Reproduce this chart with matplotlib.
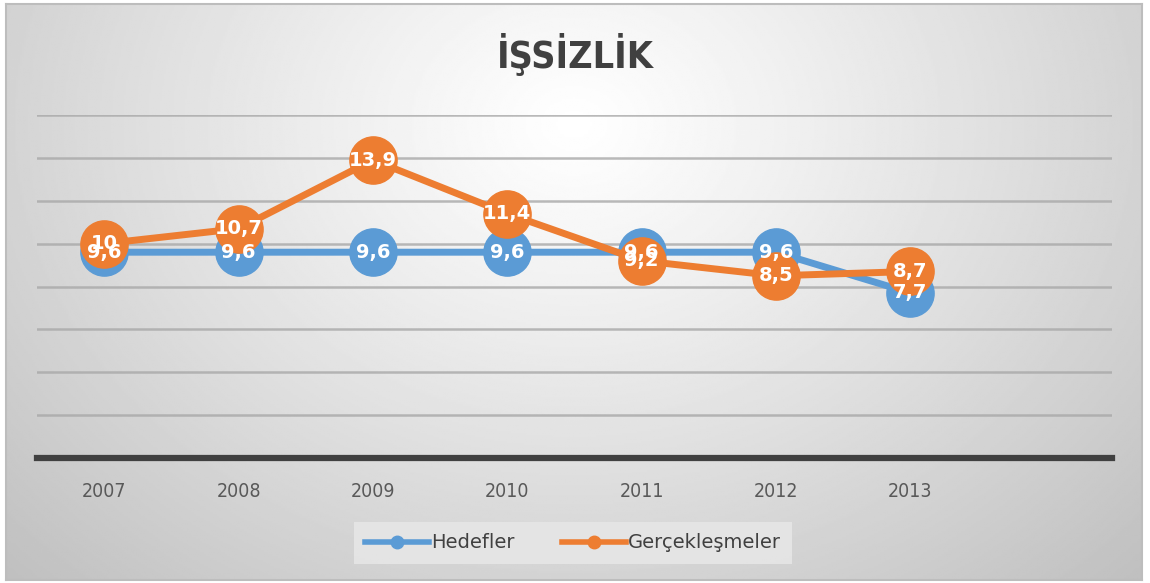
import numpy as np
import matplotlib
matplotlib.use('Agg')
import matplotlib.pyplot as plt
from matplotlib.lines import Line2D

#-- chart data
years = ['2007', '2008', '2009', '2010', '2011', '2012', '2013']
hedefler = [9.6, 9.6, 9.6, 9.6, 9.6, 9.6, 7.7]
gerceklesmeler = [10, 10.7, 13.9, 11.4, 9.2, 8.5, 8.7]
series_names = ['Hedefler', 'Gerçekleşmeler']
title = 'İŞSİZLİK'

blue = '#5b9bd5'
orange = '#ed7d31'

fig = plt.figure(figsize=(11.5, 5.83), dpi=100)
fig.patch.set_facecolor('white')

#-- radial gradient background (white near the title, grey to the corners)
bg = fig.add_axes([6 / 1150, 3 / 583, 1136 / 1150, 576 / 583])
yy, xx = np.mgrid[0:576:300j, 0:1136:600j]
dx = (xx - 568) / 568.
dy = (yy - 120) / 456.
r = np.sqrt(dx ** 2 + dy ** 2) / np.sqrt(2)
g = 1.0 - 0.25 * r ** 1.1
bg.imshow(g, cmap='gray', vmin=0, vmax=1, aspect='auto',
          extent=[0, 1, 0, 1], origin='upper')
bg.set_xticks([])
bg.set_yticks([])
for s in bg.spines.values():
    s.set_color('#bdbdbd')
    s.set_linewidth(1.5)

ax = fig.add_axes([37 / 1150, 1 - 458 / 583, (1112 - 37) / 1150, (458 - 115) / 583])
ax.patch.set_alpha(0)
x = np.arange(len(years))
ax.set_xlim(-0.5, len(years) + 0.5)
ax.set_ylim(0, 16)
ax.set_yticks(np.arange(2, 17, 2))
ax.yaxis.grid(True, color='#a8a8a8', linewidth=1.8, alpha=0.8)
ax.set_axisbelow(True)
ax.tick_params(axis='y', left=False, labelleft=False)
ax.set_xticks(x)
ax.set_xticklabels(years, fontsize=14, color='#595959', fontstretch='condensed')
ax.tick_params(axis='x', length=0, pad=17)
for side in ['top', 'right', 'left']:
    ax.spines[side].set_visible(False)
ax.spines['bottom'].set_color('#404040')
ax.spines['bottom'].set_linewidth(4.5)
ax.spines['bottom'].set_zorder(5)

ax.plot(x, hedefler, color=blue, lw=5, marker='o', ms=34, zorder=3,
        solid_capstyle='round')
ax.plot(x, gerceklesmeler, color=orange, lw=5, marker='o', ms=34, zorder=4,
        solid_capstyle='round')

for xi, v in zip(x, hedefler):
    ax.text(xi, v, ('%g' % v).replace('.', ','), ha='center', va='center',
            color='white', fontsize=14, fontweight='bold', zorder=6)
for xi, v in zip(x, gerceklesmeler):
    ax.text(xi, v, ('%g' % v).replace('.', ','), ha='center', va='center',
            color='white', fontsize=14, fontweight='bold', zorder=6)

fig.text(0.5, 1 - 55 / 583, title, ha='center', va='center', fontsize=27,
         fontweight='bold', color='#404040', fontstretch='condensed')

handles = [Line2D([0], [0], color=blue, lw=4, marker='o', ms=9),
           Line2D([0], [0], color=orange, lw=4, marker='o', ms=9)]
leg = fig.legend(handles, series_names, loc='center', ncol=2,
                 bbox_to_anchor=(573 / 1150, 1 - 543 / 583), fontsize=14,
                 frameon=True, handlelength=3.3, handletextpad=0.1,
                 columnspacing=2.4, borderpad=0.6, fancybox=False)
leg.get_frame().set_facecolor('#e6e6e6')
leg.get_frame().set_edgecolor('none')
leg.get_frame().set_alpha(0.9)
for t in leg.get_texts():
    t.set_color('#404040')

fig.savefig('out.png', dpi=100)
